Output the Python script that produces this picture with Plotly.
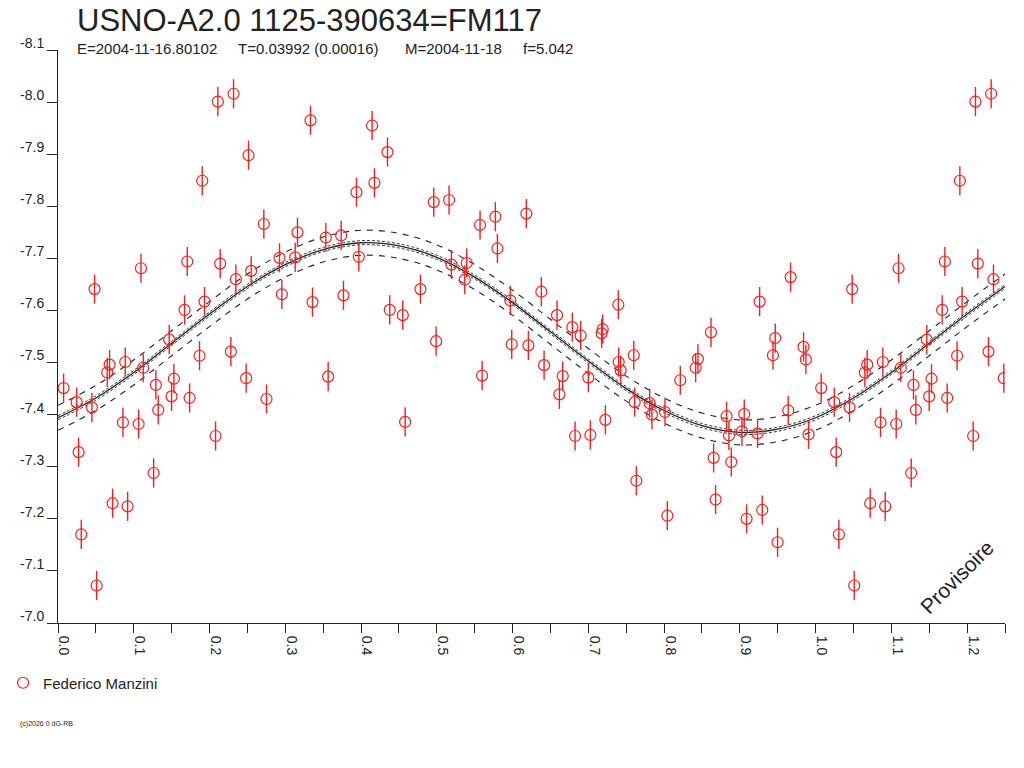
import plotly.graph_objects as go

# folded light curve, phase 0..1 (points below 0.25 are repeated after 1.0)
PHASE = [
    0.0074, 0.0246, 0.0272, 0.0307, 0.0448, 0.0483, 0.0510, 0.0650, 0.0681, 0.0721,
    0.0857, 0.0888, 0.0919, 0.1064, 0.1095, 0.1125, 0.1262, 0.1292, 0.1323, 0.1468,
    0.1499, 0.1530, 0.1671, 0.1706, 0.1737, 0.1868, 0.1904, 0.1934, 0.2080, 0.2110,
    0.2141, 0.2282, 0.2317, 0.2348, 0.2484, 0.2515, 0.2550, 0.2717, 0.2752, 0.2924,
    0.2955, 0.3131, 0.3161, 0.3333, 0.3359, 0.3535, 0.3566, 0.3738, 0.3768, 0.3940,
    0.3971, 0.4146, 0.4177, 0.4349, 0.4379, 0.4551, 0.4582, 0.4784, 0.4960, 0.4991,
    0.5162, 0.5193, 0.5369, 0.5395, 0.5571, 0.5598, 0.5773, 0.5800, 0.5971, 0.5989,
    0.6182, 0.6209, 0.6380, 0.6416, 0.6587, 0.6618, 0.6662, 0.6789, 0.6825, 0.6899,
    0.7000, 0.7027, 0.7176, 0.7190, 0.7225, 0.7396, 0.7401, 0.7427, 0.7600, 0.7612,
    0.7634, 0.7810, 0.7840, 0.8012, 0.8043, 0.8214, 0.8417, 0.8447, 0.8619, 0.8654,
    0.8680, 0.8825, 0.8856, 0.8887, 0.9028, 0.9058, 0.9089, 0.9234, 0.9261, 0.9296,
    0.9437, 0.9467, 0.9498, 0.9639, 0.9670, 0.9841, 0.9872, 0.9907,
]
MAG = [
    -7.451, -7.424, -7.328, -7.170, -7.414, -7.641, -7.072, -7.481, -7.496, -7.230,
    -7.385, -7.501, -7.224, -7.382, -7.681, -7.490, -7.288, -7.457, -7.409, -7.544,
    -7.435, -7.469, -7.601, -7.694, -7.432, -7.513, -7.849, -7.617, -7.359, -8.001,
    -7.690, -7.521, -8.016, -7.660, -7.470, -7.898, -7.676, -7.766, -7.430, -7.701,
    -7.631, -7.702, -7.750, -7.965, -7.616, -7.740, -7.473, -7.744, -7.629, -7.827,
    -7.703, -7.955, -7.845, -7.904, -7.601, -7.591, -7.386, -7.641, -7.808, -7.541,
    -7.812, -7.688, -7.659, -7.691, -7.764, -7.475, -7.780, -7.719, -7.619, -7.535,
    -7.786, -7.533, -7.636, -7.495, -7.591, -7.439, -7.474, -7.568, -7.359, -7.552,
    -7.471, -7.361, -7.556, -7.564, -7.390, -7.611, -7.501, -7.485, -7.514, -7.424,
    -7.273, -7.422, -7.400, -7.405, -7.206, -7.466, -7.490, -7.507, -7.558, -7.317,
    -7.237, -7.397, -7.360, -7.309, -7.368, -7.401, -7.200, -7.364, -7.617, -7.217,
    -7.514, -7.547, -7.155, -7.408, -7.664, -7.530, -7.506, -7.362,
]
MAG_ERR = 0.028

# fitted curve
CURVE_PHASE = [0.00, 0.05, 0.10, 0.15, 0.20, 0.25, 0.30, 0.35, 0.40, 0.45, 0.50, 0.55, 0.60,
               0.65, 0.70, 0.75, 0.80, 0.85, 0.90, 0.95, 1.00, 1.05, 1.10, 1.15, 1.20, 1.25]
CURVE_MAG = [-7.394, -7.432, -7.481, -7.537, -7.593, -7.646, -7.688, -7.717, -7.730, -7.724,
             -7.702, -7.664, -7.615, -7.559, -7.503, -7.450, -7.408, -7.379, -7.366, -7.372,
             -7.394, -7.432, -7.481, -7.537, -7.593, -7.646]
BAND_INNER = 0.004
BAND_OUTER = 0.024

X_TICKS = [0.0, 0.1, 0.2, 0.3, 0.4, 0.5, 0.6, 0.7, 0.8, 0.9, 1.0, 1.1, 1.2]
Y_TICKS = [-8.1, -8.0, -7.9, -7.8, -7.7, -7.6, -7.5, -7.4, -7.3, -7.2, -7.1, -7.0]
PHASE_MAX = 1.25

TITLE = "USNO-A2.0 1125-390634=FM117"
INFO = ["E=2004-11-16.80102", "T=0.03992 (0.00016)", "M=2004-11-18", "f=5.042"]
OBSERVER = "Federico Manzini"
STAMP = "(c)2026 0 dG-RB"
WATERMARK = "Provisoire"

RED = "#f02020"
INK = "#222222"
FONT = "Liberation Sans, Arial, sans-serif"

W, H = 1024, 768
L, R, T, B = 58, 19, 50, 145


def px(x, y):
    # page pixel -> paper coords
    return (x - L) / (W - L - R), (H - B - y) / (H - T - B)


# fold: repeat the start of the cycle after phase 1
xs = PHASE + [p + 1 for p in PHASE if p + 1 <= PHASE_MAX]
ys = MAG + [m for p, m in zip(PHASE, MAG) if p + 1 <= PHASE_MAX]

fig = go.Figure()

for off, dash, wd in [(BAND_OUTER, "6px,6px", 1.1), (-BAND_OUTER, "6px,6px", 1.1),
                      (BAND_INNER, "3px,2px", 0.9), (-BAND_INNER, "3px,2px", 0.9)]:
    fig.add_trace(go.Scatter(
        x=CURVE_PHASE, y=[m + off for m in CURVE_MAG], mode="lines",
        line=dict(color=INK, width=wd, dash=dash, shape="spline"),
        showlegend=False, hoverinfo="skip"))
fig.add_trace(go.Scatter(
    x=CURVE_PHASE, y=CURVE_MAG, mode="lines",
    line=dict(color=INK, width=1.3, shape="spline"),
    showlegend=False, hoverinfo="skip"))

fig.add_trace(go.Scatter(
    x=xs, y=ys, mode="markers", name=OBSERVER,
    marker=dict(symbol="circle-open", size=11, color=RED, line=dict(color=RED, width=1.2)),
    error_y=dict(type="constant", value=MAG_ERR, color=RED, thickness=1.4, width=0),
))

annos = []
x0, y0 = px(75, 20)
annos.append(dict(x=x0, y=y0, text=TITLE, font=dict(size=31, color=INK, family=FONT),
                  xanchor="left", yanchor="middle"))
for txt, xp in zip(INFO, [75, 236, 403, 521]):
    x0, y0 = px(xp, 48)
    annos.append(dict(x=x0, y=y0, text=txt, font=dict(size=15, color=INK, family=FONT),
                      xanchor="left", yanchor="middle"))
x0, y0 = px(956, 577)
annos.append(dict(x=x0, y=y0, text=WATERMARK, textangle=-45,
                  font=dict(size=21, color=INK, family=FONT),
                  xanchor="center", yanchor="middle"))
x0, y0 = px(18, 724)
annos.append(dict(x=x0, y=y0, text=STAMP, font=dict(size=7, color=INK, family=FONT),
                  xanchor="left", yanchor="middle"))
for a in annos:
    a.update(xref="paper", yref="paper", showarrow=False)

fig.update_layout(
    width=W, height=H,
    margin=dict(l=L, r=R, t=T, b=B, autoexpand=False),
    paper_bgcolor="white", plot_bgcolor="white",
    font=dict(family=FONT, color=INK),
    annotations=annos,
    showlegend=True,
    legend=dict(x=0.003, y=(H - 683) / H, xref="container", yref="container",
                xanchor="left", yanchor="middle", font=dict(size=15, color=INK),
                bgcolor="rgba(0,0,0,0)"),
    xaxis=dict(range=[0, PHASE_MAX], tickvals=X_TICKS, ticktext=[f"{v:.1f}" for v in X_TICKS],
               tickangle=90, ticks="outside", ticklen=9, tickcolor=INK,
               minor=dict(dtick=0.05, ticks="outside", ticklen=9, tickcolor=INK),
               showline=True, linecolor=INK, linewidth=1, showgrid=False, zeroline=False,
               tickfont=dict(size=14, color=INK), ticklabelshift=6),
    yaxis=dict(range=[-7.0, -8.1], tickvals=Y_TICKS, ticktext=[f"{v:.1f}" for v in Y_TICKS],
               ticks="outside", ticklen=10, tickcolor=INK,
               showline=True, linecolor=INK, linewidth=1, showgrid=False, zeroline=False,
               tickfont=dict(size=14, color=INK), ticklabelshift=7),
)

# the page has a default 8px body margin; drop it so the figure sits at 0,0
fig.write_html("out.html", config={"displayModeBar": False},
               post_script="document.body.style.margin='0';")
